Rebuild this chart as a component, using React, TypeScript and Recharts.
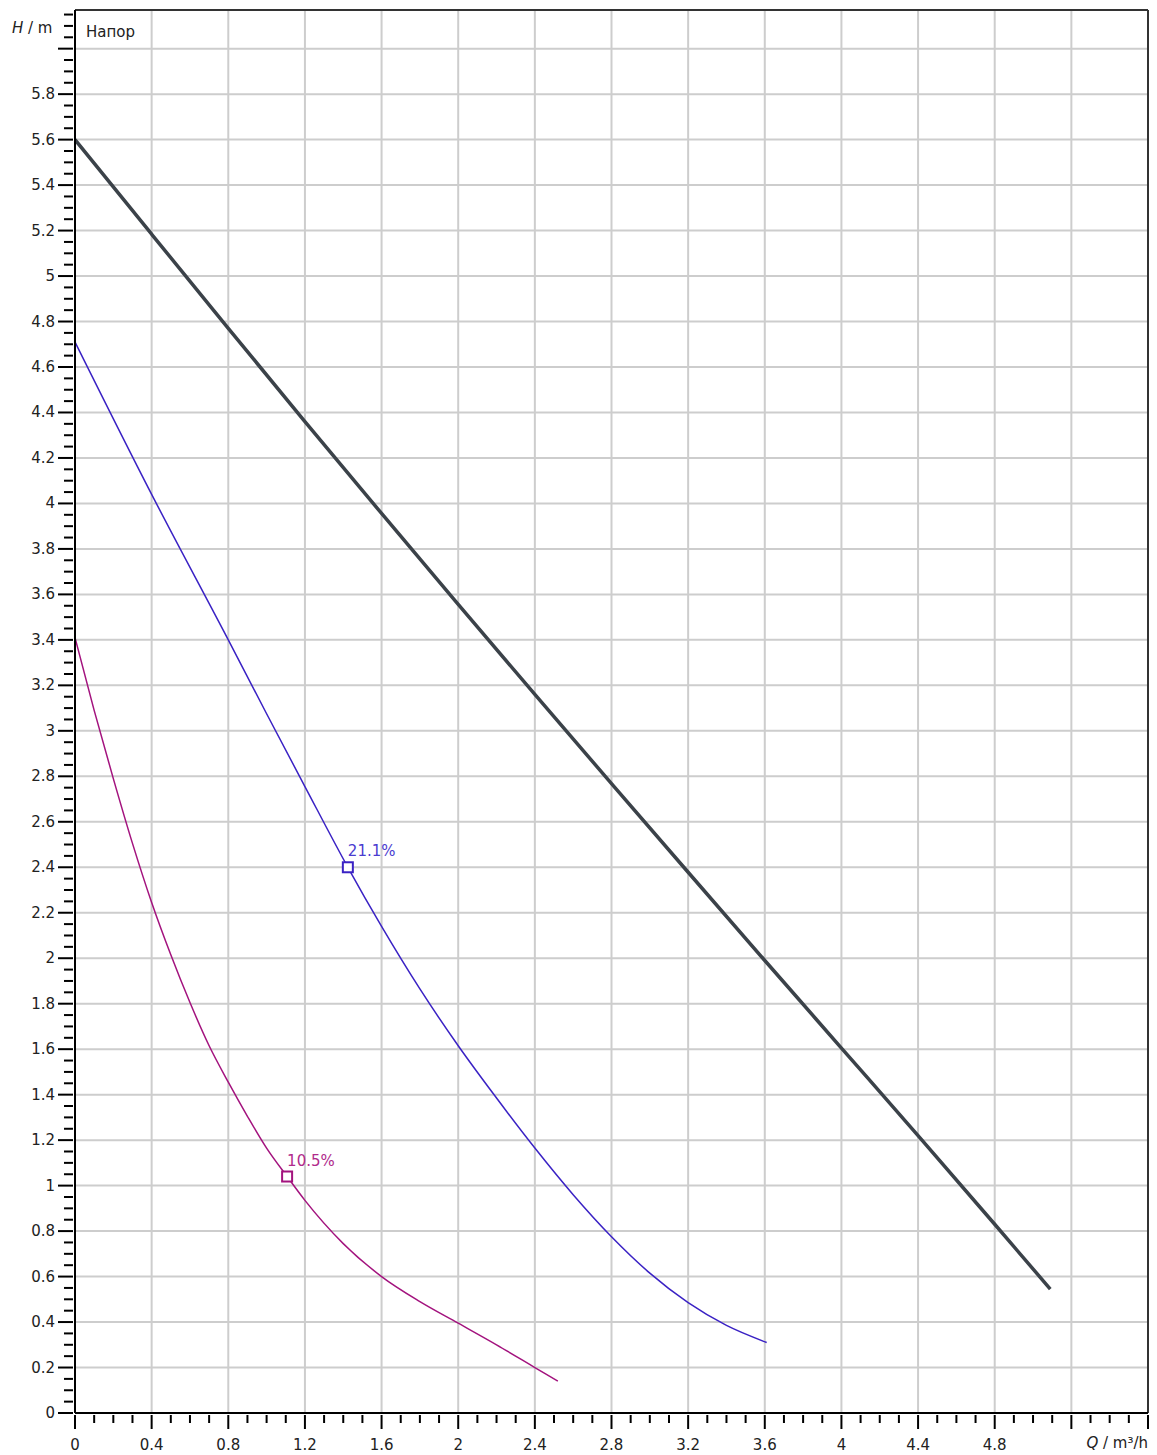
import React from "react";
import {
  ComposedChart,
  Line,
  XAxis,
  YAxis,
  ReferenceLine,
  ReferenceDot,
} from "recharts";

// Q in m³/h, H in m
const maxQ = [0, 0.4, 0.8, 1.2, 1.6, 2.0, 2.4, 2.8, 3.2, 3.6, 4.0, 4.4, 4.8, 5.09];
const maxH = [5.6, 5.184, 4.77, 4.36, 3.956, 3.556, 3.16, 2.768, 2.378, 1.99, 1.605, 1.22, 0.83, 0.545];

const midQ = [0, 0.4, 0.8, 1.0, 1.2, 1.424, 1.6, 1.8, 2.0, 2.2, 2.4, 2.6, 2.8, 3.0, 3.2, 3.4, 3.61];
const midH = [4.71, 4.04, 3.4, 3.075, 2.755, 2.4, 2.14, 1.865, 1.615, 1.385, 1.165, 0.96, 0.775, 0.615, 0.485, 0.385, 0.31];

const lowQ = [0, 0.1, 0.2, 0.3, 0.4, 0.5, 0.6, 0.7, 0.8, 0.9, 1.0, 1.107, 1.2, 1.4, 1.6, 1.8, 2.0, 2.2, 2.4, 2.52];
const lowH = [3.41, 3.09, 2.79, 2.505, 2.245, 2.015, 1.805, 1.615, 1.455, 1.305, 1.165, 1.04, 0.935, 0.745, 0.6, 0.49, 0.395, 0.3, 0.2, 0.14];

// operating points
const pointQ = [1.424, 1.107];
const pointH = [2.4, 1.04];
const pointLabels = ["21.1%", "10.5%"];
const pointColors = ["#3a22c4", "#a3137e"];
const pointTextColors = ["#4a3cd0", "#b02a8c"];

const xLabels = [0, 0.4, 0.8, 1.2, 1.6, 2, 2.4, 2.8, 3.2, 3.6, 4, 4.4, 4.8];
const yLabels = [
  0, 0.2, 0.4, 0.6, 0.8, 1, 1.2, 1.4, 1.6, 1.8, 2, 2.2, 2.4, 2.6, 2.8, 3, 3.2,
  3.4, 3.6, 3.8, 4, 4.2, 4.4, 4.6, 4.8, 5, 5.2, 5.4, 5.6, 5.8,
];
const xGrid = [0.4, 0.8, 1.2, 1.6, 2, 2.4, 2.8, 3.2, 3.6, 4, 4.4, 4.8, 5.2];
const yGrid = [...yLabels.slice(1), 6];

const X_MAX = 5.6;
const Y_MAX = 6.17;

const toRows = (q: number[], h: number[]) => q.map((v, i) => ({ q: v, h: h[i] }));
const maxData = toRows(maxQ, maxH);
const midData = toRows(midQ, midH);
const lowData = toRows(lowQ, lowH);

const xTicks = Array.from({ length: 57 }, (_, i) => +(i * 0.1).toFixed(2));
const yTicks = Array.from({ length: 124 }, (_, i) => +(i * 0.05).toFixed(2));

const FONT = "'DejaVu Sans', Verdana, sans-serif";
const TEXT = "#222";

const isStep = (v: number, step: number) =>
  Math.abs(v / step - Math.round(v / step)) < 1e-6;
const hasLabel = (list: number[], v: number) =>
  list.some((l) => Math.abs(l - v) < 1e-6);

const YTick = (props: any) => {
  const { x, y, payload } = props;
  const v = payload.value;
  const major = isStep(v, 0.2);
  return (
    <g>
      <line x1={x - (major ? 15 : 9)} x2={x} y1={y} y2={y} stroke="#000" strokeWidth={2} />
      {hasLabel(yLabels, v) && (
        <text
          x={x - 18}
          y={y}
          textAnchor="end"
          dominantBaseline="central"
          fontFamily={FONT}
          fontSize={15}
          fill={TEXT}
        >
          {String(+v.toFixed(2))}
        </text>
      )}
    </g>
  );
};

const XTick = (props: any) => {
  const { x, y, payload } = props;
  const v = payload.value;
  const major = isStep(v, 0.4);
  return (
    <g>
      <line x1={x} x2={x} y1={y} y2={y + (major ? 14 : 8)} stroke="#000" strokeWidth={2} />
      {hasLabel(xLabels, v) && (
        <text
          x={x}
          y={y + 30}
          textAnchor="middle"
          dominantBaseline="central"
          fontFamily={FONT}
          fontSize={15}
          fill={TEXT}
        >
          {String(+v.toFixed(2))}
        </text>
      )}
    </g>
  );
};

const makeMarker = (i: number) => (p: any) => (
  <g>
    <rect
      x={p.cx - 5}
      y={p.cy - 5}
      width={10}
      height={10}
      fill="#fff"
      stroke={pointColors[i]}
      strokeWidth={2}
    />
    <text
      x={p.cx}
      y={p.cy - 16}
      dominantBaseline="central"
      fontFamily={FONT}
      fontSize={15}
      fill={pointTextColors[i]}
    >
      {pointLabels[i]}
    </text>
  </g>
);

const overlay: React.CSSProperties = {
  position: "absolute",
  fontFamily: FONT,
  fontSize: 15,
  lineHeight: "18px",
  color: TEXT,
  whiteSpace: "nowrap",
};

const App: React.FC = () => {
  return (
    <div style={{ position: "absolute", left: 0, top: 0, width: 1157, height: 1455, background: "#fff" }}>
      <ComposedChart width={1157} height={1455} margin={{ top: 10, right: 9, bottom: 0, left: 0 }}>
        <XAxis
          type="number"
          dataKey="q"
          domain={[0, X_MAX]}
          allowDataOverflow
          ticks={xTicks}
          interval={0}
          height={42}
          tickSize={0}
          tickLine={false}
          axisLine={{ stroke: "#000", strokeWidth: 2 }}
          tick={<XTick />}
        />
        <YAxis
          type="number"
          dataKey="h"
          domain={[0, Y_MAX]}
          allowDataOverflow
          ticks={yTicks}
          interval={0}
          width={75}
          tickSize={0}
          tickLine={false}
          axisLine={{ stroke: "#000", strokeWidth: 2 }}
          tick={<YTick />}
        />
        {/* Grid lines */}
        {xGrid.map((v) => (
          <ReferenceLine key={`x${v}`} x={v} stroke="#cdcdcd" strokeWidth={2} />
        ))}
        {yGrid.map((v) => (
          <ReferenceLine key={`y${v}`} y={v} stroke="#cdcdcd" strokeWidth={2} />
        ))}
        {/* frame */}
        <ReferenceLine y={Y_MAX} stroke="#333" strokeWidth={2} />
        <ReferenceLine x={X_MAX} stroke="#333" strokeWidth={2} />

        <Line data={lowData} dataKey="h" type="monotone" stroke="#a3137e" strokeWidth={1.5} dot={false} activeDot={false} isAnimationActive={false} />
        <Line data={midData} dataKey="h" type="monotone" stroke="#3a22c4" strokeWidth={1.5} dot={false} activeDot={false} isAnimationActive={false} />
        <Line data={maxData} dataKey="h" type="monotone" stroke="#3b4249" strokeWidth={3.5} dot={false} activeDot={false} isAnimationActive={false} />

        {pointQ.map((q, i) => (
          <ReferenceDot key={pointLabels[i]} x={q} y={pointH[i]} shape={makeMarker(i)} />
        ))}
      </ComposedChart>
      <div style={{ ...overlay, left: 12, top: 19 }}>
        <i>H</i> / m
      </div>
      <div style={{ ...overlay, left: 86, top: 23 }}>Напор</div>
      <div style={{ ...overlay, right: 9, top: 1434 }}>
        <i>Q</i> / m³/h
      </div>
    </div>
  );
};

export default App;
